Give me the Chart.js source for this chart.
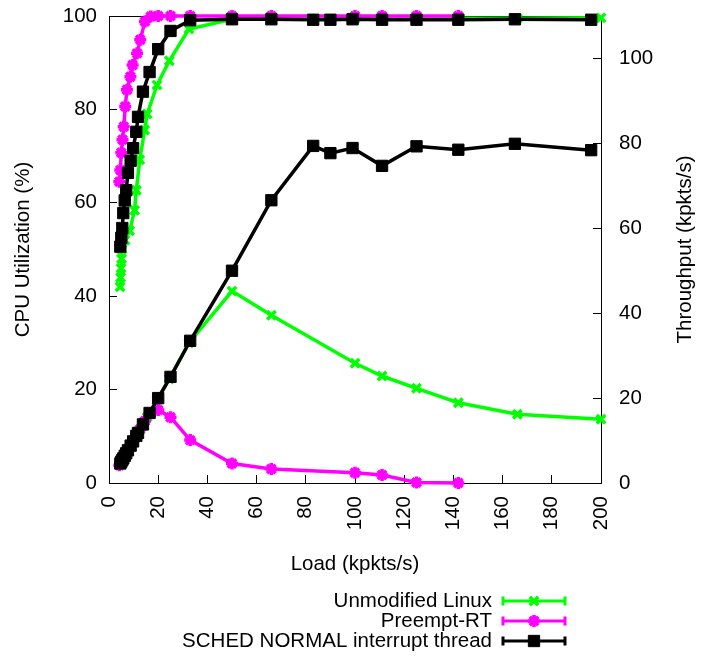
<!DOCTYPE html>
<html>
<head>
<meta charset="utf-8">
<script src="https://cdn.jsdelivr.net/npm/chart.js@4.4.1/dist/chart.umd.min.js"></script>
<style>
  html, body { margin: 0; padding: 0; background: #fff; }
</style>
</head>
<body>
<canvas id="chart" width="707" height="657"></canvas>
<script>
const loadTicks = [0, 20, 40, 60, 80, 100, 120, 140, 160, 180, 200];
const cpuTicks = [0, 20, 40, 60, 80, 100];
const throughputTicks = [0, 20, 40, 60, 80, 100];

const seriesNames = ["Unmodified Linux", "Preempt-RT", "SCHED NORMAL interrupt thread"];

// Unmodified Linux
const linuxLoad = [4.5, 4.7, 4.9, 5.1, 5.3, 6.5, 8.4, 10.4, 11.1, 12.5, 14.5, 15.5, 19.5, 24.5, 32.5, 50, 66, 100, 111, 125, 142, 166, 200];
const linuxCpu = [42, 44, 46, 48, 50, 52, 54, 58.4, 62.7, 69.2, 75.6, 79, 85.2, 90.4, 97.2, 99.3, 99.3, 99.4, 99.4, 99.4, 99.5, 99.5, 99.6];
const linuxThroughput = [4.5, 4.7, 4.9, 5.1, 5.3, 6.5, 8.4, 10.4, 11.1, 12.5, 14.5, 15.5, 19.5, 24.5, 33, 45.2, 39.5, 28.2, 25.2, 22.3, 18.9, 16.2, 15];

// Preempt-RT
const rtLoad = [4.2, 4.6, 5.0, 5.5, 6.0, 6.6, 7.3, 8.7, 9.6, 11.4, 12.7, 14.6, 17, 20, 25, 33, 50, 66, 100, 111, 125, 142];
const rtCpu = [64.5, 67, 70.7, 73.5, 76.3, 80.6, 84.2, 87, 89.5, 92, 94.9, 98.8, 99.9, 100, 100, 100, 100, 100, 100, 100, 100, 100];
const rtThroughput = [4.2, 4.6, 5.0, 5.5, 6.0, 6.6, 7.3, 8.7, 9.6, 11.4, 12.7, 14.6, 16.5, 17.2, 15.5, 10.1, 4.6, 3.3, 2.4, 1.9, 0.1, 0];

// SCHED NORMAL interrupt thread
const schedLoad = [4.6, 5.0, 5.4, 5.8, 6.4, 7.0, 7.7, 8.8, 9.8, 11.1, 11.8, 13.8, 16.5, 20, 25, 33, 50, 66, 83, 90, 99, 111, 125, 142, 165, 196];
const schedCpu = [50.6, 52.5, 54.6, 57.8, 60.5, 62.7, 66.4, 69, 71.7, 75.2, 78.4, 83.8, 88, 92.9, 96.8, 99.1, 99.3, 99.3, 99.2, 99.2, 99.3, 99.2, 99.2, 99.2, 99.3, 99.2];
const schedThroughput = [4.6, 5.0, 5.4, 5.8, 6.4, 7.0, 7.7, 8.8, 9.8, 11.1, 11.8, 13.8, 16.5, 20, 25, 33.5, 50, 66.6, 79.4, 77.7, 78.9, 74.7, 79.3, 78.5, 79.9, 78.4];

const FONT = '"Liberation Sans", Arial, sans-serif';
const FONT_SIZE = 20.5;

Chart.defaults.font.family = FONT;
Chart.defaults.font.size = FONT_SIZE;
Chart.defaults.color = "#000";

const styles = [
  { color: "#00ff00", point: "crossRot", radius: 6, border: 3.5, order: 2 },
  { color: "#ff00ff", point: "star", radius: 6, border: 3.5, order: 1 },
  { color: "#000000", point: "rect", radius: 8, border: 1, order: 0 }
];

function pairs(xs, ys) {
  return xs.map((x, i) => ({ x: x, y: ys[i] }));
}

function makeSets(idx, loads, cpu, thr) {
  const s = styles[idx];
  const base = {
    label: seriesNames[idx],
    borderColor: s.color,
    backgroundColor: s.color,
    pointBorderColor: s.color,
    pointBackgroundColor: s.color,
    pointStyle: s.point,
    pointRadius: s.radius,
    pointBorderWidth: s.border,
    borderWidth: 3.5,
    tension: 0,
    clip: false,
    order: s.order
  };
  return [
    Object.assign({}, base, { data: pairs(loads, cpu), yAxisID: "y" }),
    Object.assign({}, base, { data: pairs(loads, thr), yAxisID: "y2" })
  ];
}

const datasets = [].concat(
  makeSets(0, linuxLoad, linuxCpu, linuxThroughput),
  makeSets(1, rtLoad, rtCpu, rtThroughput),
  makeSets(2, schedLoad, schedCpu, schedThroughput)
);

function fixedTicks(values) {
  return function (scale) {
    scale.ticks = values.map(v => ({ value: v }));
  };
}

// fixed box size, and no extra label padding pushed into the layout
function boxSize(w, h) {
  return function (scale) {
    if (w) scale.width = w;
    if (h) scale.height = h;
    scale.paddingTop = 0;
    scale.paddingBottom = 0;
    scale.paddingLeft = 0;
    scale.paddingRight = 0;
  };
}

const tickGrid = {
  display: true,
  drawOnChartArea: false,
  drawTicks: true,
  tickLength: -8,
  color: "#000",
  lineWidth: 1
};

// frame, right-hand axis title and the key below the plot
const extras = {
  id: "extras",
  beforeDatasetsDraw(chart) {
    const a = chart.chartArea;
    const ctx = chart.ctx;
    ctx.save();
    ctx.strokeStyle = "#000";
    ctx.lineWidth = 1;
    ctx.strokeRect(a.left + 0.5, a.top + 0.5, a.right - a.left, a.bottom - a.top);
    ctx.restore();
  },
  afterDraw(chart) {
    const ctx = chart.ctx;
    const a = chart.chartArea;
    const y2 = chart.scales.y2;
    ctx.save();
    ctx.font = FONT_SIZE + "px " + FONT;
    ctx.fillStyle = "#000";
    ctx.textBaseline = "middle";

    ctx.save();
    ctx.translate(y2.right - 22, (a.top + a.bottom) / 2);
    ctx.rotate(-Math.PI / 2);
    ctx.textAlign = "center";
    ctx.fillText("Throughput (kpkts/s)", 0, 0);
    ctx.restore();

    const textRight = 492, lineL = 503, lineR = 565, top = 601, step = 20;
    seriesNames.forEach((name, i) => {
      const s = styles[i];
      const y = top + i * step;
      ctx.fillStyle = "#000";
      ctx.textAlign = "right";
      ctx.fillText(name, textRight, y);
      ctx.strokeStyle = s.color;
      ctx.lineWidth = 3;
      ctx.beginPath();
      ctx.moveTo(lineL, y);
      ctx.lineTo(lineR, y);
      ctx.moveTo(lineL, y - 4.5);
      ctx.lineTo(lineL, y + 4.5);
      ctx.moveTo(lineR, y - 4.5);
      ctx.lineTo(lineR, y + 4.5);
      ctx.stroke();
      ctx.lineWidth = s.border;
      ctx.fillStyle = s.color;
      Chart.helpers.drawPoint(ctx, {
        pointStyle: s.point,
        radius: s.radius,
        borderWidth: s.border,
        rotation: 0
      }, (lineL + lineR) / 2, y);
    });
    ctx.restore();
  }
};

new Chart(document.getElementById("chart"), {
  type: "line",
  data: { datasets: datasets },
  options: {
    responsive: false,
    animation: false,
    events: [],
    layout: { padding: { top: 16, left: 0, right: 0, bottom: 0 } },
    plugins: {
      legend: { display: false },
      tooltip: { enabled: false }
    },
    scales: {
      x: {
        type: "linear",
        position: "bottom",
        min: 0,
        max: 200,
        afterBuildTicks: fixedTicks(loadTicks),
        afterFit: boxSize(0, 174),
        grid: tickGrid,
        border: { display: true, color: "#000", width: 1 },
        ticks: { minRotation: 90, maxRotation: 90, autoSkip: false, padding: 21, color: "#000" },
        title: {
          display: true,
          text: "Load (kpkts/s)",
          font: { size: FONT_SIZE, lineHeight: 1.2 },
          padding: { top: 0, bottom: 80 }
        }
      },
      y: {
        type: "linear",
        position: "left",
        min: 0,
        max: 100,
        afterBuildTicks: fixedTicks(cpuTicks),
        afterFit: boxSize(109, 0),
        grid: tickGrid,
        border: { display: true, color: "#000", width: 1 },
        ticks: { padding: 20, color: "#000" },
        title: {
          display: true,
          text: "CPU Utilization (%)",
          font: { size: FONT_SIZE, lineHeight: 1.2 },
          padding: { top: 11, bottom: 0 }
        }
      },
      y2: {
        type: "linear",
        position: "right",
        min: 0,
        max: 110,
        afterBuildTicks: fixedTicks(throughputTicks),
        afterFit: boxSize(106, 0),
        grid: tickGrid,
        border: { display: true, color: "#000", width: 1 },
        ticks: { padding: 26, color: "#000" }
      }
    }
  },
  plugins: [extras]
});
</script>
</body>
</html>
